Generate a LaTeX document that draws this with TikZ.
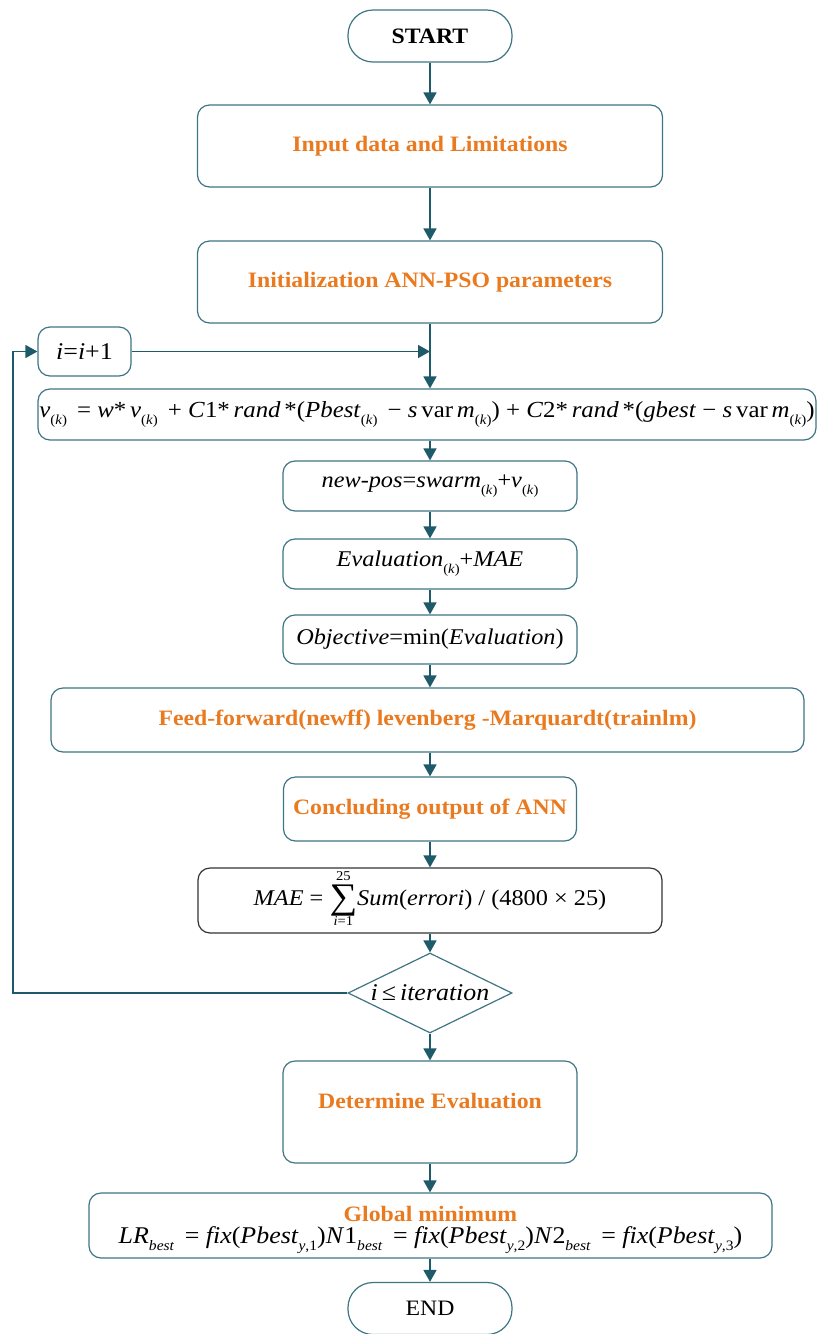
\documentclass[tikz,border=0pt]{standalone}
\usepackage{fontspec}
\setmainfont{Liberation Serif}[FakeStretch=1.08]
\usepackage{graphicx}
\usetikzlibrary{arrows.meta,shapes.geometric}

\definecolor{flowline}{HTML}{1F5A6A}
\definecolor{flowedge}{HTML}{3E7484}
\definecolor{flowtitle}{HTML}{E97A1F}

\newcommand{\mi}[1]{\textit{#1}}
\newcommand{\lo}[1]{\raisebox{-0.32em}{\scalebox{0.6}{#1}}}
\newcommand{\bigsum}[2]{{\renewcommand{\arraystretch}{0.5}\begin{tabular}{@{}c@{}}\scalebox{0.6}{#2}\\[1pt]\scalebox{1.6}{∑}\\[1pt]\scalebox{0.6}{#1}\end{tabular}}}

\begin{document}
\begin{tikzpicture}[x=1pt,y=-1pt,
	every node/.style={font=\fontsize{22}{26}\selectfont},
	box/.style={draw=flowedge,line width=1.2pt,rounded corners=12pt,align=center,inner sep=0pt},
	title/.style={box,text=flowtitle,font=\fontsize{22}{26}\selectfont\bfseries},
	formula/.style={box,font=\fontsize{22.5}{26}\selectfont},
	terminal/.style={draw=flowedge,line width=1.2pt,rounded corners=25pt,minimum width=164pt,minimum height=52pt},
	arr/.style={draw=flowline,line width=1.6pt,-{Triangle[length=12pt,width=13pt]}}]
	
	\useasboundingbox (0,0) rectangle (818,1334);
	
	\node [terminal,font=\fontsize{22}{26}\selectfont\bfseries] (start) at (430,36) {START};
	\node [title,minimum width=465pt,minimum height=82pt] (input) at (430,146) {Input data and Limitations};
	\node [title,minimum width=465pt,minimum height=82pt] (init) at (430,282) {Initialization ANN-PSO parameters};
	\node [formula,minimum width=93pt,minimum height=49pt,font=\fontsize{24}{28}\selectfont] (incr) at (84.5,351.5) {\mi{i}=\mi{i}+1};
	\node [formula,minimum width=778pt,minimum height=51pt,font=\fontsize{23}{27}\selectfont] (velocity) at (427,414.5) {\mi{v}\lo{(\mi{k})}\, = \mi{w}*\,\mi{v}\lo{(\mi{k})}\, + \mi{C}1*\,\mi{rand}\,*(\mi{Pbest}\lo{(\mi{k})}\, − \mi{s}\,var\,\mi{m}\lo{(\mi{k})}) + \mi{C}2*\,\mi{rand}\,*(\mi{gbest} − \mi{s}\,var\,\mi{m}\lo{(\mi{k})})};
	\node [formula,minimum width=294pt,minimum height=50pt] (newpos) at (430,486) {\mi{new-pos}=\mi{swarm}\lo{(\mi{k})}+\mi{v}\lo{(\mi{k})}};
	\node [formula,minimum width=294pt,minimum height=50pt] (evalk) at (430,564) {\mi{Evaluation}\lo{(\mi{k})}+\mi{MAE}};
	\node [formula,minimum width=294pt,minimum height=49pt] (objective) at (430,639.5) {\mi{Objective}=min(\mi{Evaluation})};
	\node [title,minimum width=753pt,minimum height=64pt] (feedfwd) at (427.5,720) {Feed-forward(newff) levenberg -Marquardt(trainlm)};
	\node [title,minimum width=293pt,minimum height=64pt] (conclude) at (430,809) {Concluding output of ANN};
	\node [formula,draw=black!80,minimum width=464pt,minimum height=65pt] (mae) at (430,900.5) {\mi{MAE} = \bigsum{\mi{i}=1}{25}\mi{Sum}(\mi{errori}) / (4800 × 25)};
	\node [diamond,draw=flowedge,line width=1.2pt,minimum width=164pt,minimum height=80pt,inner sep=0pt,font=\fontsize{24}{28}\selectfont] (check) at (430,993) {\makebox[0pt]{\mi{i}\,≤\,\mi{iteration}}};
	\node [title,minimum width=294pt,minimum height=102pt,text depth=23pt] (determine) at (430,1112) {Determine Evaluation};
	\node [formula,minimum width=683pt,minimum height=65pt,text depth=2pt,font=\fontsize{24}{28}\selectfont] (globalmin) at (430.5,1225.5) {{\fontsize{22}{26}\selectfont\bfseries\color{flowtitle}Global minimum}\\[-6pt] \mi{LR}\lo{\mi{best}}\, = \mi{fix}(\mi{Pbest}\lo{\mi{y},1})\mi{N}1\lo{\mi{best}}\, = \mi{fix}(\mi{Pbest}\lo{\mi{y},2})\mi{N}2\lo{\mi{best}}\, = \mi{fix}(\mi{Pbest}\lo{\mi{y},3})};
	\node [terminal] (finish) at (430,1308.5) {END};
	
	\foreach \a/\b in {start/input,input/init,velocity/newpos,newpos/evalk,evalk/objective,objective/feedfwd,feedfwd/conclude,conclude/mae,mae/check,check/determine,determine/globalmin,globalmin/finish}{
		\draw[arr] (\a.south -| start.south) -- (\b.north -| start.south);
	}
	\draw[arr] (init.south) -- (velocity.north -| init.south);
	\draw[arr] (incr.east) -- (incr.east -| init.south);
	\coordinate (loopcorner) at (13,993);
	\draw[arr,line width=1.4pt] (check.west) -- (loopcorner) |- (incr.west);
	
\end{tikzpicture}
\end{document}
